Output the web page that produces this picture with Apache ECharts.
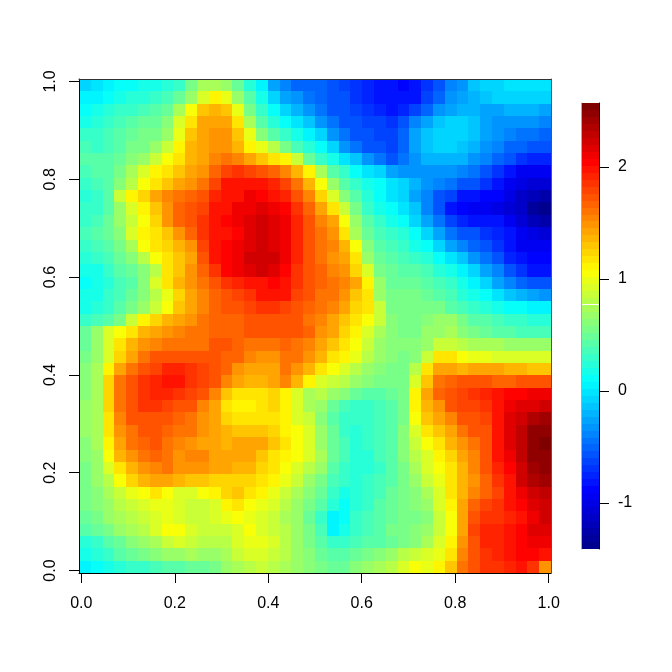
<!DOCTYPE html>
<html><head><meta charset="utf-8">
<style>html,body{margin:0;padding:0;background:#fff}#c{width:672px;height:672px}</style>
<script src="https://cdn.jsdelivr.net/npm/echarts@6/dist/echarts.min.js"></script>
</head><body><div id="c"></div>
<script>
const xTicks=[0,0.2,0.4,0.6,0.8,1.0];
const yTicks=[0,0.2,0.4,0.6,0.8,1.0];
const barTicks=[-1,0,1,2];
const zMin=-1.41, zMax=2.57;
const barGapValue=0.768;
const palette=['#00008F','#0000FF','#0080FF','#00FFFF','#80FF80','#FFFF00','#FF8000','#FF0000','#800000'];
// values, top row first, left to right
const fieldRows=[
[-.05,0,.05,.1,.12,.15,.2,.25,.3,.55,.75,.75,.65,.5,.25,.05,-.25,-.4,-.5,-.5,-.5,-.6,-.65,-.7,-.75,-.8,-.85,-.9,-.85,-.7,-.55,-.4,-.3,-.15,-.1,-.05,0,0,-.02,0],
[.05,.08,.12,.18,.22,.25,.3,.38,.48,.65,.95,1.1,1.0,.7,.4,.15,-.05,-.25,-.35,-.45,-.5,-.55,-.6,-.7,-.75,-.8,-.85,-.85,-.8,-.65,-.5,-.35,-.25,-.2,-.15,-.1,-.1,-.05,-.05,-.05],
[.12,.15,.22,.28,.32,.36,.42,.5,.75,1.05,1.3,1.35,1.3,1.0,.55,.3,.1,-.05,-.2,-.35,-.45,-.55,-.6,-.65,-.7,-.75,-.8,-.75,-.65,-.5,-.35,-.25,-.2,-.2,-.25,-.25,-.2,-.2,-.2,-.25],
[.2,.25,.3,.36,.42,.46,.5,.6,.9,1.2,1.4,1.45,1.4,1.15,.75,.45,.25,.12,0,-.15,-.3,-.45,-.55,-.6,-.65,-.65,-.7,-.6,-.4,-.25,-.15,-.1,-.1,-.15,-.25,-.3,-.35,-.35,-.35,-.4],
[.3,.3,.35,.42,.48,.52,.58,.7,1.0,1.3,1.45,1.5,1.5,1.3,1.0,.6,.42,.28,.15,.05,-.1,-.3,-.45,-.55,-.6,-.65,-.65,-.5,-.25,-.12,-.08,-.08,-.08,-.12,-.25,-.35,-.4,-.45,-.45,-.5],
[.35,.33,.38,.45,.52,.58,.68,.85,1.1,1.35,1.45,1.5,1.5,1.35,1.1,1.0,.8,.55,.38,.25,.1,-.1,-.3,-.45,-.55,-.6,-.65,-.5,-.25,-.12,-.08,-.1,-.12,-.2,-.3,-.4,-.5,-.5,-.55,-.6],
[.4,.4,.42,.5,.6,.7,.85,1.05,1.2,1.35,1.45,1.55,1.6,1.55,1.4,1.3,1.2,1.1,.85,.5,.3,.15,.02,-.15,-.3,-.45,-.55,-.45,-.3,-.2,-.18,-.2,-.22,-.3,-.4,-.5,-.6,-.7,-.75,-.75],
[.38,.4,.45,.55,.75,.95,1.1,1.2,1.3,1.4,1.5,1.65,1.8,1.85,1.8,1.75,1.65,1.55,1.35,1.1,.75,.45,.3,.1,0,-.1,-.25,-.3,-.3,-.3,-.3,-.33,-.37,-.45,-.55,-.7,-.85,-.95,-.95,-.95],
[.3,.35,.45,.6,.8,1.05,1.2,1.3,1.4,1.5,1.6,1.8,1.95,2.0,2.0,1.95,1.9,1.8,1.6,1.35,1.05,.7,.45,.3,.15,.1,0,-.1,-.2,-.3,-.38,-.45,-.55,-.6,-.7,-.8,-.95,-1.0,-1.05,-1.05],
[.25,.3,.45,.85,1.1,1.25,1.45,1.55,1.6,1.65,1.75,1.9,1.95,2.0,2.1,2.05,2.0,1.9,1.75,1.55,1.25,.95,.6,.4,.22,.1,.02,-.1,-.25,-.4,-.55,-.65,-.8,-.85,-.9,-.9,-1.0,-1.1,-1.2,-1.25],
[.28,.32,.45,.7,.95,1.1,1.3,1.5,1.65,1.7,1.8,1.95,2.0,2.1,2.1,2.15,2.1,2.05,1.85,1.65,1.45,1.2,.85,.55,.3,.2,.1,0,-.15,-.4,-.6,-.8,-.9,-.95,-.95,-1.0,-1.05,-1.15,-1.3,-1.35],
[.32,.38,.48,.68,.88,1.05,1.25,1.5,1.65,1.7,1.85,2.0,2.05,2.1,2.15,2.25,2.15,2.1,1.9,1.75,1.55,1.45,1.05,.65,.4,.3,.2,.1,-.05,-.25,-.45,-.65,-.75,-.8,-.85,-.85,-.95,-1.05,-1.2,-1.25],
[.35,.4,.48,.6,.95,1.1,1.2,1.3,1.5,1.65,1.85,2.0,2.0,2.05,2.15,2.2,2.15,2.1,1.9,1.75,1.6,1.5,1.2,.75,.5,.38,.3,.25,.12,-.05,-.25,-.45,-.55,-.6,-.7,-.75,-.85,-.95,-1.0,-1.05],
[.32,.36,.45,.55,.72,1.05,1.15,1.25,1.35,1.5,1.8,2.0,2.05,2.1,2.15,2.2,2.15,2.1,1.9,1.75,1.6,1.55,1.35,1.05,.6,.45,.35,.3,.2,.1,-.05,-.25,-.4,-.5,-.6,-.7,-.85,-.95,-.95,-.95],
[.22,.28,.38,.48,.6,.78,1.05,1.2,1.3,1.45,1.7,1.95,2.05,2.1,2.2,2.25,2.2,2.1,1.9,1.75,1.6,1.5,1.45,1.15,.7,.5,.42,.38,.3,.22,.12,0,-.15,-.3,-.45,-.6,-.75,-.85,-.9,-.9],
[.15,.2,.3,.4,.5,.62,.8,1.15,1.3,1.5,1.65,1.85,2.05,2.1,2.15,2.2,2.15,2.05,1.85,1.75,1.65,1.55,1.5,1.25,.95,.55,.48,.45,.42,.35,.25,.15,.05,-.1,-.25,-.4,-.6,-.7,-.8,-.8],
[.12,.18,.25,.35,.45,.6,.95,1.2,1.35,1.5,1.62,1.75,1.85,1.9,1.95,2.0,2.05,2.0,1.85,1.7,1.65,1.6,1.55,1.4,1.1,.65,.5,.48,.48,.45,.35,.28,.15,.05,-.1,-.25,-.4,-.5,-.55,-.6],
[.15,.2,.28,.38,.48,.6,.8,1.0,1.25,1.4,1.55,1.65,1.75,1.8,1.85,1.95,2.0,1.95,1.8,1.7,1.6,1.6,1.5,1.3,1.15,.7,.55,.52,.52,.5,.42,.35,.25,.18,.1,-.02,-.15,-.2,-.25,-.3],
[.2,.25,.32,.4,.52,.68,.85,1.05,1.3,1.4,1.55,1.65,1.7,1.75,1.8,1.85,1.85,1.8,1.7,1.65,1.6,1.55,1.45,1.25,1.15,.85,.55,.55,.55,.55,.52,.45,.35,.28,.22,.15,.12,.1,.08,.08],
[.3,.35,.4,.55,.85,1.1,1.25,1.35,1.45,1.5,1.6,1.65,1.65,1.65,1.7,1.75,1.75,1.75,1.7,1.6,1.55,1.45,1.3,1.15,1.05,.85,.6,.55,.55,.6,.65,.65,.55,.45,.4,.35,.3,.28,.25,.25],
[.5,.65,.9,1.05,1.2,1.35,1.45,1.5,1.55,1.6,1.6,1.65,1.65,1.65,1.7,1.7,1.7,1.75,1.7,1.65,1.5,1.4,1.25,1.1,.95,.75,.62,.55,.58,.65,.7,.72,.6,.55,.5,.45,.42,.38,.35,.35],
[.5,.65,.9,1.15,1.35,1.5,1.55,1.6,1.6,1.6,1.6,1.7,1.7,1.65,1.6,1.6,1.6,1.65,1.6,1.55,1.45,1.3,1.2,1.05,.85,.7,.62,.6,.62,.7,.85,.85,.8,.75,.75,.72,.7,.68,.65,.65],
[.55,.7,.95,1.25,1.45,1.6,1.7,1.7,1.75,1.75,1.75,1.7,1.65,1.65,1.55,1.5,1.5,1.6,1.6,1.5,1.35,1.2,1.1,1.0,.8,.65,.6,.55,.6,.85,1.15,1.15,1.05,1.0,1.0,.95,.95,.95,.95,.95],
[.6,.72,1.1,1.4,1.6,1.75,1.8,1.9,1.9,1.85,1.8,1.75,1.65,1.5,1.4,1.4,1.45,1.6,1.5,1.35,1.15,1.05,.9,.8,.7,.6,.55,.55,.8,1.2,1.4,1.4,1.35,1.4,1.4,1.4,1.35,1.35,1.3,1.3],
[.6,.75,1.25,1.6,1.75,1.85,1.9,1.95,1.95,1.85,1.8,1.7,1.55,1.4,1.35,1.35,1.4,1.55,1.35,1.1,.95,.85,.8,.7,.62,.58,.52,.55,.95,1.3,1.6,1.65,1.7,1.75,1.7,1.65,1.65,1.7,1.75,1.75],
[.62,.75,1.25,1.6,1.75,1.85,1.9,1.9,1.85,1.8,1.7,1.55,1.3,1.15,1.15,1.2,1.25,1.1,.9,.75,.8,.7,.6,.5,.45,.45,.48,.58,1.1,1.4,1.65,1.75,1.8,1.85,1.9,2.0,2.05,2.05,2.1,2.1],
[.65,.75,1.25,1.6,1.75,1.85,1.85,1.8,1.75,1.7,1.55,1.4,1.2,1.1,1.1,1.15,1.25,1.1,.95,.75,.65,.5,.35,.3,.3,.35,.42,.55,1.1,1.35,1.5,1.7,1.8,1.8,1.85,2.0,2.1,2.15,2.15,2.25],
[.65,.75,1.2,1.55,1.7,1.75,1.75,1.7,1.65,1.6,1.5,1.4,1.25,1.2,1.2,1.2,1.2,1.1,.95,.85,.62,.45,.3,.28,.3,.35,.42,.55,1.05,1.3,1.4,1.55,1.7,1.75,1.8,2.0,2.15,2.25,2.35,2.4],
[.65,.75,1.15,1.5,1.6,1.7,1.7,1.65,1.6,1.6,1.5,1.4,1.35,1.3,1.3,1.3,1.25,1.1,1.05,.9,.65,.5,.3,.25,.28,.35,.42,.6,.9,1.15,1.3,1.45,1.6,1.7,1.75,2.0,2.15,2.3,2.45,2.5],
[.62,.72,1.1,1.45,1.6,1.65,1.7,1.6,1.55,1.5,1.45,1.4,1.35,1.4,1.4,1.4,1.3,1.15,1.05,.9,.7,.5,.35,.25,.28,.38,.45,.6,.85,1.05,1.2,1.35,1.5,1.6,1.75,2.0,2.15,2.3,2.5,2.57],
[.6,.7,1.05,1.35,1.5,1.6,1.65,1.6,1.5,1.55,1.55,1.45,1.45,1.45,1.4,1.3,1.2,1.1,1.05,.9,.72,.5,.35,.25,.25,.35,.42,.6,.8,.95,1.1,1.25,1.4,1.55,1.75,1.95,2.1,2.3,2.45,2.5],
[.58,.68,.9,1.15,1.35,1.5,1.55,1.6,1.5,1.5,1.5,1.45,1.4,1.35,1.35,1.25,1.2,1.05,.95,.8,.65,.45,.3,.22,.25,.32,.4,.58,.75,.9,1.05,1.2,1.35,1.55,1.7,1.9,2.05,2.25,2.4,2.45],
[.55,.65,.78,1.05,1.25,1.35,1.4,1.4,1.35,1.3,1.3,1.25,1.25,1.25,1.25,1.15,1.1,1.0,.85,.7,.55,.38,.28,.25,.28,.35,.45,.55,.7,.85,1.0,1.15,1.35,1.5,1.65,1.85,2.0,2.2,2.35,2.4],
[.55,.62,.72,.85,1.0,1.05,1.15,1.05,.95,.95,1.05,1.1,1.25,1.3,1.15,1.1,1.0,.88,.75,.6,.48,.3,.2,.22,.28,.38,.48,.55,.62,.75,.95,1.15,1.35,1.55,1.65,1.8,1.95,2.1,2.25,2.3],
[.55,.6,.68,.78,.85,.92,.98,1.0,.9,.85,.85,.95,1.1,1.2,1.05,1.0,.92,.8,.7,.55,.42,.22,.12,.22,.3,.4,.5,.55,.6,.7,.9,1.1,1.4,1.65,1.8,1.85,1.95,2.05,2.15,2.25],
[.5,.55,.65,.72,.82,.88,.92,1.0,.95,.85,.85,.9,.98,1.02,1.0,.9,.85,.75,.65,.5,.3,.05,.1,.28,.35,.42,.5,.55,.58,.62,.85,1.05,1.45,1.75,1.85,1.85,1.9,2.0,2.1,2.2],
[.45,.5,.55,.65,.72,.82,.9,1.05,1.02,.9,.85,.85,.88,.95,1.02,.95,.85,.78,.68,.55,.35,.08,.15,.3,.38,.45,.52,.55,.6,.68,.85,1.05,1.45,1.8,1.9,1.9,1.95,2.05,2.15,2.15],
[.22,.3,.4,.5,.6,.68,.75,.85,.9,.88,.82,.8,.82,.9,1.0,.98,.9,.8,.7,.55,.42,.3,.3,.35,.4,.45,.5,.55,.62,.75,.95,1.1,1.5,1.75,1.9,1.9,1.95,2.05,2.1,2.1],
[.2,.25,.32,.4,.48,.55,.6,.65,.7,.72,.7,.65,.75,.85,.92,.95,.88,.78,.7,.6,.5,.42,.42,.5,.55,.62,.7,.78,.85,.95,1.0,1.2,1.55,1.75,1.85,1.9,1.95,2.05,2.05,2.0],
[.08,.12,.2,.25,.3,.33,.35,.4,.45,.5,.5,.55,.65,.75,.78,.85,.8,.75,.7,.6,.55,.5,.5,.6,.68,.75,.82,.95,1.02,1.0,1.1,1.3,1.6,1.75,1.85,1.85,1.9,1.95,1.85,1.5]
];
const nRows=fieldRows.length, nCols=fieldRows[0].length;
const xLo=-0.005, xHi=1.005, yLo=-0.005, yHi=1.005;
const cw=(xHi-xLo)/nCols, ch=(yHi-yLo)/nRows;
const cells=[];
fieldRows.forEach((r,j)=>r.forEach((v,i)=>{cells.push([xLo+(i+.5)*cw, yHi-(j+.5)*ch, v]);}));
const nLevels=64, bh=(zMax-zMin)/nLevels, barCells=[];
for(let k=0;k<nLevels;k++){const m=zMin+(k+.5)*bh;barCells.push([.5,m,m]);}
const font='"Liberation Sans",Arial,sans-serif';
function rectRender(hw,hh){return (p,api)=>{
  const a=api.coord([api.value(0)-hw,api.value(1)+hh]), b=api.coord([api.value(0)+hw,api.value(1)-hh]);
  const x=Math.round(a[0]), y=Math.round(a[1]);
  return {type:'rect',shape:{x,y,width:Math.round(b[0])-x,height:Math.round(b[1])-y},style:{fill:api.visual('color')}};
};}
const tickStyle={lineStyle:{color:'#000',width:1}};
const lbl={color:'#000',fontFamily:font,fontSize:16};
const chart=echarts.init(document.getElementById('c'),null,{renderer:'canvas'});
chart.setOption({
  animation:false,backgroundColor:'#fff',
  grid:[{left:79,top:79,width:472,height:494},{left:581,top:103,width:18,height:446}],
  xAxis:[
   {gridIndex:0,type:'value',min:xLo,max:xHi,position:'bottom',z:10,splitLine:{show:false},
    axisLine:{show:true,onZero:false,lineStyle:{color:'#000'}},
    axisTick:{show:true,length:10,customValues:xTicks,...tickStyle},
    axisLabel:{show:true,customValues:xTicks,margin:23,formatter:v=>(+v).toFixed(1),...lbl}},
   {gridIndex:0,type:'value',min:xLo,max:xHi,position:'top',z:10,splitLine:{show:false},
    axisLine:{show:true,onZero:false,lineStyle:{color:'#333'}},axisTick:{show:false},axisLabel:{show:false}},
   {gridIndex:1,type:'value',min:0,max:1,show:false}
  ],
  yAxis:[
   {gridIndex:0,type:'value',min:yLo,max:yHi,position:'left',z:10,splitLine:{show:false},
    axisLine:{show:true,onZero:false,lineStyle:{color:'#000'}},
    axisTick:{show:true,length:10,customValues:yTicks,...tickStyle},
    axisLabel:{show:true,customValues:yTicks,rotate:90,margin:20,formatter:v=>(+v).toFixed(1),...lbl}},
   {gridIndex:0,type:'value',min:yLo,max:yHi,position:'right',z:10,splitLine:{show:false},
    axisLine:{show:true,onZero:false,lineStyle:{color:'#555'}},axisTick:{show:false},axisLabel:{show:false}},
   {gridIndex:1,type:'value',min:zMin,max:zMax,position:'right',z:10,splitLine:{show:false},
    axisLine:{show:true,onZero:false,lineStyle:{color:'#000'}},
    axisTick:{show:true,length:10,customValues:barTicks,...tickStyle},
    axisLabel:{show:true,customValues:barTicks,margin:19,padding:[4,0,0,0],...lbl}},
   {gridIndex:1,type:'value',min:zMin,max:zMax,position:'left',z:10,splitLine:{show:false},
    axisLine:{show:true,onZero:false,lineStyle:{color:'#aaa'}},axisTick:{show:false},axisLabel:{show:false}}
  ],
  visualMap:{type:'piecewise',show:false,min:zMin,max:zMax,splitNumber:nLevels,precision:4,dimension:2,seriesIndex:[0,1],
    inRange:{color:palette}},
  series:[
   {type:'custom',xAxisIndex:0,yAxisIndex:0,coordinateSystem:'cartesian2d',data:cells,encode:{x:0,y:1},
    renderItem:rectRender(cw/2,ch/2),clip:true,silent:true,progressive:0},
   {type:'custom',xAxisIndex:2,yAxisIndex:2,coordinateSystem:'cartesian2d',data:barCells,encode:{x:0,y:1},
    renderItem:rectRender(.5,bh/2),silent:true,progressive:0,
    markLine:{silent:true,symbol:'none',animation:false,label:{show:false},lineStyle:{color:'#fff',width:1,type:'solid'},data:[{yAxis:barGapValue}]}}
  ]
});
</script></body></html>
